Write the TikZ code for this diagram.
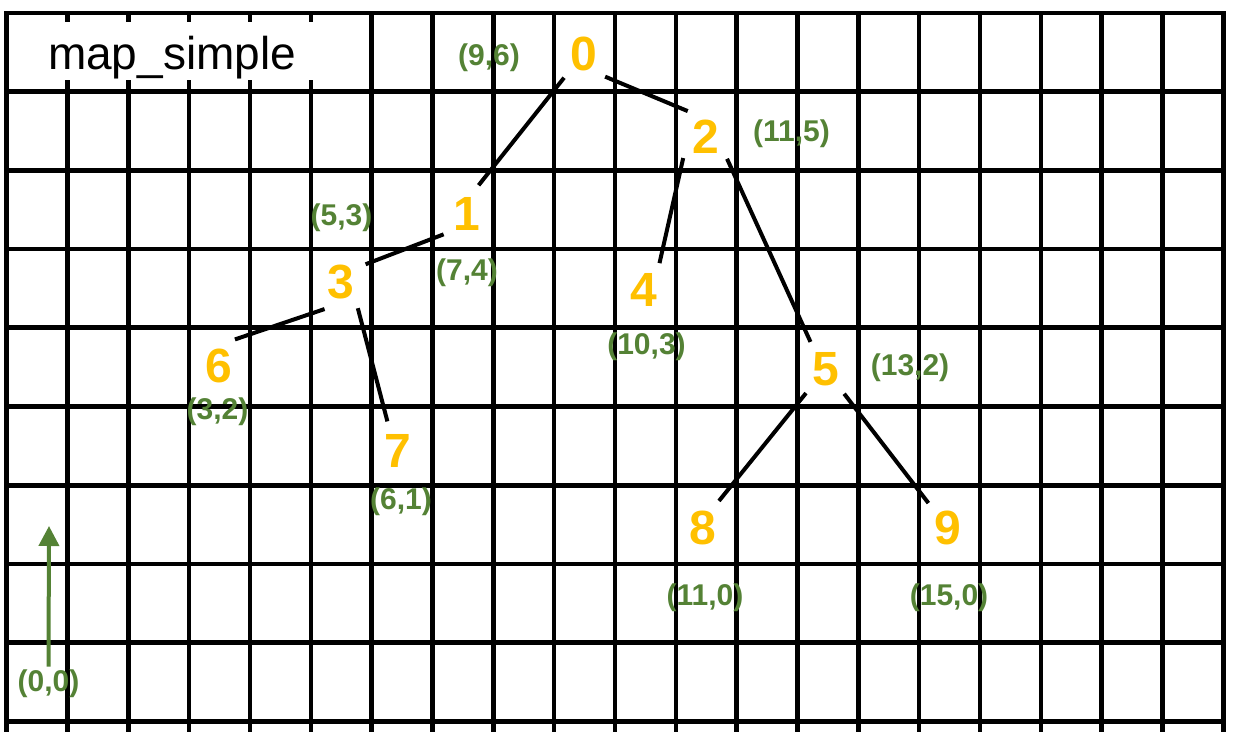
\documentclass[tikz,border=0pt]{standalone}
\usepackage{fontspec}
\setmainfont{Liberation Sans}
\usetikzlibrary{arrows.meta}
\definecolor{giallo}{HTML}{FFC000}
\definecolor{verde}{HTML}{548235}
\tikzset{
  griglia/.style={line width=2.3pt, line cap=rect},
  nodo/.style={circle, minimum size=31pt, inner sep=0pt, outer sep=0pt,
    text=giallo, font=\bfseries\fontsize{24}{24}\selectfont},
  coord/.style={inner sep=0pt, text=verde, font=\bfseries\fontsize{15}{15}\selectfont},
  arco/.style={line width=2pt}
}
\begin{document}
\begin{tikzpicture}[x=0.5pt,y=-0.5pt]
    % Area del disegno
    \useasboundingbox (0,0) rectangle (1235,732);

    % Griglia di sfondo
    \foreach \i in {0,...,20}
        \draw[griglia] ({6.7+60.83*\i},13) -- ({6.7+60.83*\i},740);
    \foreach \j in {0,...,9}
        \draw[griglia] (6.7,{13+78.7*\j}) -- (1223.3,{13+78.7*\j});

    % Riquadro bianco del titolo
    \fill[white] (9,22) rectangle (318,80);
    \node[anchor=base, inner sep=0pt, font=\fontsize{23}{23}\selectfont] (titolo) at (172,70) {map\_simple};

    % Nodi dell'albero
    \node[nodo] (n0) at (584,54) {0};
    \node[nodo] (n1) at (467,214) {1};
    \node[nodo] (n2) at (705.5,136.5) {2};
    \node[nodo] (n3) at (340.5,282.5) {3};
    \node[nodo] (n4) at (644,290) {4};
    \node[nodo] (n5) at (825.5,369) {5};
    \node[nodo] (n6) at (219,366) {6};
    \node[nodo] (n7) at (398,450.5) {7};
    \node[nodo] (n8) at (703,527.5) {8};
    \node[nodo] (n9) at (947.5,527.5) {9};

    % Coordinate dei nodi
    \node[coord] (c0) at (489,58) {(9,6)};
    \node[coord] (c1) at (467,273) {(7,4)};
    \node[coord] (c2) at (791.5,133.5) {(11,5)};
    \node[coord] (c3) at (341.5,218) {(5,3)};
    \node[coord] (c4) at (646.5,346.5) {(10,3)};
    \node[coord] (c5) at (910,367.5) {(13,2)};
    \node[coord] (c6) at (217.5,412) {(3,2)};
    \node[coord] (c7) at (401,502) {(6,1)};
    \node[coord] (c8) at (705,597.5) {(11,0)};
    \node[coord] (c9) at (949,597.5) {(15,0)};
    \node[coord] (c00) at (48.5,684) {(0,0)};

    % Archi
    \draw[arco] (n0.230) -- (n1.68);
    \draw[arco] (n0.313) -- (n2.125);
    \draw[arco] (n2.224) -- (n4.60);
    \draw[arco] (n2.314) -- (n5.119);
    \draw[arco] (n1.221) -- (n3.36);
    \draw[arco] (n3.239) -- (n6.59);
    \draw[arco] (n3.304) -- (n7.110);
    \draw[arco] (n5.231) -- (n8.59);
    \draw[arco] (n5.307) -- (n9.128);

    % Freccia verso l'alto
    \coordinate (cima) at (49,526);
    \draw[verde, line width=2pt, -{Triangle[width=10pt,length=10pt]}] (c00.north) ++(0,-3) -- (cima);
\end{tikzpicture}
\end{document}
